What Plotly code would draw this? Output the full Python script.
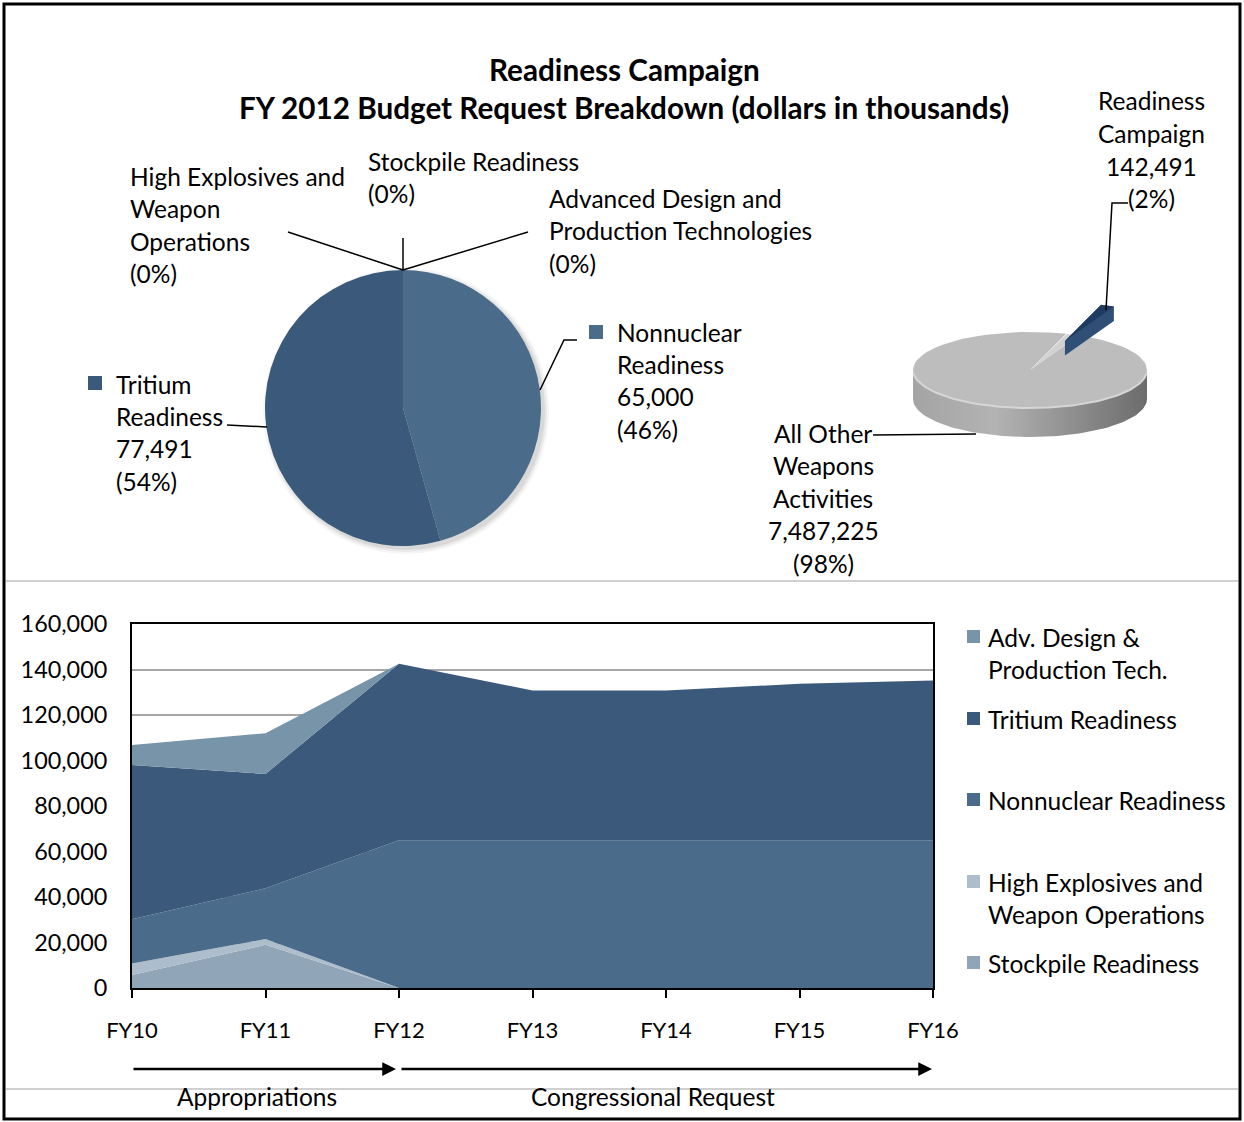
import math
import plotly.graph_objects as go

#######################################
# DATA ################################
#######################################

years = ["FY10", "FY11", "FY12", "FY13", "FY14", "FY15", "FY16"]

# stacked area series, bottom to top (dollars in thousands)
stockpile = [5700, 19000, 0, 0, 0, 0, 0]
high_explosives = [5100, 2500, 0, 0, 0, 0, 0]
nonnuclear = [19400, 22300, 65000, 65000, 65000, 65000, 65000]
tritium = [67800, 50300, 77491, 65800, 65800, 68700, 70200]
adv_design = [8800, 17900, 0, 0, 0, 0, 0]

# FY 2012 breakdown pie
pie_labels = ["Nonnuclear Readiness", "Tritium Readiness",
              "High Explosives and Weapon Operations", "Stockpile Readiness",
              "Advanced Design and Production Technologies"]
pie_values = [65000, 77491, 0, 0, 0]

# Readiness Campaign share of Weapons Activities
share_labels = ["Readiness Campaign", "All Other Weapons Activities"]
share_values = [142491, 7487225]

#######################################
# STYLE ###############################
#######################################

W, H = 1244, 1122
FONT = "Lato"
TXT = 24.5

c_adv = "#7894a8"
c_trit = "#3b5a7b"
c_nonnuc = "#4a6b89"
c_he = "#aebdcb"
c_stock = "#90a5b7"


def px(x):
    return x / W


def py(y):
    return 1 - y / H


fig = go.Figure()


def text_lines(x, y0, lines, anchor="left", size=TXT, step=32.5, bold=False):
    for i, s in enumerate(lines):
        fig.add_annotation(
            x=px(x), y=py(y0 + i * step), xref="paper", yref="paper",
            text=f"<b>{s}</b>" if bold else s, showarrow=False,
            xanchor=anchor, yanchor="middle", borderpad=0,
            font=dict(family=FONT, size=size, color="black"),
        )


def leader(points):
    path = "M " + " L ".join(f"{px(x)},{py(y)}" for x, y in points)
    fig.add_shape(type="path", path=path, xref="paper", yref="paper",
                  line=dict(color="black", width=1.5))


def square(x, y, color, s=14):
    fig.add_shape(type="rect", xref="paper", yref="paper",
                  x0=px(x), x1=px(x + s), y0=py(y + s), y1=py(y),
                  fillcolor=color, line=dict(width=0))


#######################################
# STACKED AREA ########################
#######################################

series = [("Stockpile Readiness", stockpile, c_stock),
          ("High Explosives and Weapon Operations", high_explosives, c_he),
          ("Nonnuclear Readiness", nonnuclear, c_nonnuc),
          ("Tritium Readiness", tritium, c_trit),
          ("Adv. Design & Production Tech.", adv_design, c_adv)]

xs = list(range(len(years)))
for name, vals, col in series:
    fig.add_trace(go.Scatter(
        x=xs, y=vals, name=name, stackgroup="one", mode="lines",
        line=dict(width=0, color=col), fillcolor=col, showlegend=False,
    ))

fig.update_layout(
    xaxis=dict(domain=[px(132), px(933)], range=[0, 6], tickvals=xs, ticktext=years,
               showline=True, mirror=True, linecolor="black", linewidth=2,
               ticks="outside", ticklen=8, tickwidth=2, tickcolor="black",
               showgrid=False, zeroline=False, ticklabelstandoff=14, automargin=False,
               tickfont=dict(family=FONT, size=22, color="black")),
    yaxis=dict(domain=[py(988), py(624)], range=[0, 160000], dtick=20000,
               tickformat=",d", showline=True, mirror=True, linecolor="black",
               linewidth=2, showgrid=True, gridcolor="#a6a6a6", gridwidth=2,
               zeroline=False, ticks="", ticklabelstandoff=18, automargin=False,
               tickfont=dict(family=FONT, size=23.4, color="black")),
)

# legend on the right
legend_rows = [(c_adv, ["Adv. Design &", "Production Tech."], 637),
               (c_trit, ["Tritium Readiness"], 719),
               (c_nonnuc, ["Nonnuclear Readiness"], 800),
               (c_he, ["High Explosives and", "Weapon Operations"], 882),
               (c_stock, ["Stockpile Readiness"], 963)]
for col, lines, y in legend_rows:
    square(967, y - 7, col, 13)
    text_lines(987, y, lines)

#######################################
# FY 2012 PIE #########################
#######################################

pie_cx, pie_cy, pie_r = 403, 408, 138
for k, a in enumerate([0.07, 0.05, 0.035]):
    r = pie_r + 1 + 2 * k
    fig.add_shape(type="circle", xref="paper", yref="paper", layer="below",
                  x0=px(pie_cx + 3 - r), x1=px(pie_cx + 3 + r),
                  y0=py(pie_cy + 3 + r), y1=py(pie_cy + 3 - r),
                  fillcolor=f"rgba(0,0,0,{a})", line=dict(width=0))

fig.add_trace(go.Pie(
    labels=pie_labels, values=pie_values, sort=False, direction="clockwise",
    rotation=0, textinfo="none", showlegend=False,
    marker=dict(colors=[c_nonnuc, c_trit, c_he, c_stock, c_adv], line=dict(width=0)),
    domain=dict(x=[px(pie_cx - pie_r), px(pie_cx + pie_r)],
                y=[py(pie_cy + pie_r), py(pie_cy - pie_r)]),
))

pie_total = sum(pie_values)


def pct(v, tot):
    return f"({round(100 * v / tot)}%)"


text_lines(129, 176, ["High Explosives and", "Weapon", "Operations",
                      pct(pie_values[2], pie_total)])
text_lines(367, 161, ["Stockpile Readiness", pct(pie_values[3], pie_total)])
text_lines(548, 198, ["Advanced Design and", "Production Technologies",
                      pct(pie_values[4], pie_total)])
square(589, 325, c_nonnuc)
text_lines(616, 332, ["Nonnuclear", "Readiness", f"{pie_values[0]:,}",
                      pct(pie_values[0], pie_total)])
square(88, 376, c_trit)
text_lines(115, 384, ["Tritium", "Readiness", f"{pie_values[1]:,}",
                      pct(pie_values[1], pie_total)])

leader([(288, 232), (403, 270)])
leader([(403, 238), (403, 270)])
leader([(528, 232), (403, 270)])
leader([(540, 390), (564, 340), (577, 340)])
leader([(227, 425), (267, 427)])

#######################################
# 3D SHARE PIE ########################
#######################################

cx, cy, rx, ry, depth = 1030, 370, 117, 38, 29
share_total = sum(share_values)
start = 18.0
sweep = 360.0 * share_values[0] / share_total


def ell(a, dx=0.0, dy=0.0):
    t = math.radians(a)
    return cx + dx + rx * math.sin(t), cy + dy - ry * math.cos(t)


def arc(a0, a1, dx=0.0, dy=0.0, n=80):
    return [ell(a0 + (a1 - a0) * i / n, dx, dy) for i in range(n + 1)]


def poly(pts, color, grad=None):
    xs_, ys_ = zip(*pts)
    kw = dict(fillgradient=grad) if grad else dict(fillcolor=color)
    fig.add_trace(go.Scatter(x=list(xs_) + [xs_[0]], y=list(ys_) + [ys_[0]],
                             xaxis="x2", yaxis="y2", mode="lines", fill="toself",
                             line=dict(width=0, color=color), showlegend=False,
                             hoverinfo="skip", **kw))


def hull(pts):
    pts = sorted(set(pts))

    def cross(o, a, b):
        return (a[0] - o[0]) * (b[1] - o[1]) - (a[1] - o[1]) * (b[0] - o[0])

    lower, upper = [], []
    for p in pts:
        while len(lower) >= 2 and cross(lower[-2], lower[-1], p) <= 0:
            lower.pop()
        lower.append(p)
    for p in reversed(pts):
        while len(upper) >= 2 and cross(upper[-2], upper[-1], p) <= 0:
            upper.pop()
        upper.append(p)
    return lower[:-1] + upper[:-1]


# side of the big slice
side = arc(90, 270) + arc(270, 90, 0, depth)
poly(side, "#9a9a9a", dict(type="horizontal",
                           colorscale=[[0, "#a4a4a4"], [0.35, "#b3b3b3"], [1, "#6c6c6c"]]))
# top face of the big slice and the notch left by the exploded one
poly([(cx, cy)] + arc(start + sweep, start + 360), "#bdbdbd")
poly([(cx, cy)] + arc(start, start + sweep), "#d2d2d2")
rim = arc(95, 265)
fig.add_trace(go.Scatter(x=[p[0] for p in rim], y=[p[1] for p in rim],
                         xaxis="x2", yaxis="y2", mode="lines", showlegend=False,
                         line=dict(color="#d6d6d6", width=2), hoverinfo="skip"))

# exploded Readiness Campaign slice
mid = math.radians(start + sweep / 2)
ox, oy = 0.82 * rx * math.sin(mid), -0.82 * ry * math.cos(mid)
top = [(cx + ox, cy + oy)] + arc(start, start + sweep, ox, oy, 12)
bot = [(x, y + depth * 0.5) for x, y in top]
poly(hull(top + bot), "#2f4f76")
poly(top, "#1e3a5e")

fig.update_layout(
    xaxis2=dict(domain=[px(880), px(1180)], range=[880, 1180], visible=False,
                anchor="y2", fixedrange=True, automargin=False),
    yaxis2=dict(domain=[py(470), py(290)], range=[470, 290], visible=False,
                anchor="x2", fixedrange=True, automargin=False),
)

text_lines(1151, 101, ["Readiness", "Campaign", f"{share_values[0]:,}",
                       pct(share_values[0], share_total)], anchor="center")
text_lines(823, 433, ["All Other", "Weapons", "Activities", f"{share_values[1]:,}",
                      pct(share_values[1], share_total)], anchor="center")
leader([(1128, 203), (1112, 203), (1106, 310)])
leader([(873, 435), (976, 434)])

#######################################
# TITLE, FRAME, ARROWS ################
#######################################

text_lines(624, 70, ["Readiness Campaign",
                     "FY 2012 Budget Request Breakdown (dollars in thousands)"],
           anchor="center", size=29.7, step=38, bold=True)

fig.add_shape(type="rect", xref="paper", yref="paper", x0=px(4), x1=px(1240),
              y0=py(1119), y1=py(4), line=dict(color="black", width=3))
for y in (581, 1089):
    fig.add_shape(type="line", xref="paper", yref="paper", x0=px(6), x1=px(1238),
                  y0=py(y), y1=py(y), line=dict(color="#c0c0c0", width=1.5))

for x0, x1 in ((132, 396), (400, 932)):
    fig.add_annotation(x=px(x1), y=py(1069), xref="paper", yref="paper",
                       ax=x0 - x1, ay=0, axref="pixel", ayref="pixel", text="",
                       showarrow=True, arrowhead=2, arrowsize=1.1, arrowwidth=2.5,
                       arrowcolor="black", standoff=0)
text_lines(257, 1096, ["Appropriations"], anchor="center")
text_lines(653, 1096, ["Congressional Request"], anchor="center")

fig.update_layout(
    width=W, height=H, margin=dict(l=0, r=0, t=0, b=0, pad=0),
    paper_bgcolor="white", plot_bgcolor="rgba(0,0,0,0)",
    font=dict(family=FONT, color="black"),
)

# drop the browser's default 8px page margin so the figure sits at the corner
fig.write_html("out.html", config={"displayModeBar": False},
               post_script="document.body.style.margin = '0';")
